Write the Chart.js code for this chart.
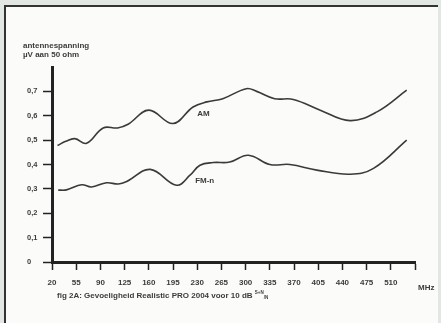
<!DOCTYPE html>
<html lang="nl">
<head>
    <meta charset="UTF-8">
    <title>Gevoeligheid Realistic PRO 2004</title>
    <script src="https://cdn.jsdelivr.net/npm/chart.js"></script>
    <style>
        html, body { margin: 0; padding: 0; background: #e3e7e3; }
        #wrap { width: 441px; height: 323px; position: relative; }
    </style>
</head>
<body>
    <div id="wrap"><canvas id="chart" width="441" height="323"></canvas></div>
    <script>
        const xTicks = [20, 55, 90, 125, 160, 195, 230, 265, 300, 335, 370, 405, 440, 475, 510, 545];
        const yTicks = [0, 0.1, 0.2, 0.3, 0.4, 0.5, 0.6, 0.7];

        const amFreq = [28, 40, 53, 70, 94, 115, 130, 160, 195, 224, 244, 267, 301, 316, 342, 369, 408, 451, 490, 533];
        const amValues = [0.478, 0.495, 0.506, 0.487, 0.55, 0.55, 0.565, 0.623, 0.568, 0.636, 0.657, 0.67, 0.711, 0.70, 0.67, 0.667, 0.623, 0.58, 0.616, 0.705];

        const fmFreq = [29, 41, 63, 77, 99, 116, 128, 162, 200, 220, 234, 253, 277, 304, 335, 364, 403, 451, 485, 533];
        const fmValues = [0.295, 0.296, 0.317, 0.308, 0.325, 0.32, 0.33, 0.38, 0.315, 0.357, 0.397, 0.408, 0.41, 0.438, 0.40, 0.40, 0.377, 0.36, 0.384, 0.50];

        const ink = '#3c3c3c';
        const font = '"Liberation Sans", Arial, sans-serif';

        const toPoints = (xs, ys) => xs.map((x, i) => ({ x: x, y: ys[i] }));

        // paper, frame and loose texts
        const paper = {
            id: 'paper',
            beforeDraw(chart) {
                const c = chart.ctx;
                c.save();
                c.fillStyle = '#e3e7e3';
                c.fillRect(0, 0, 441, 323);
                c.fillStyle = '#fbfbfa';
                c.fillRect(5, 5, 433, 318);
                c.fillStyle = '#333';
                c.fillRect(4, 5, 2, 318);
                c.fillRect(4, 5, 434, 2);
                c.restore();
            },
            afterDraw(chart) {
                const c = chart.ctx;
                const xs = chart.scales.x, ys = chart.scales.y;
                c.save();
                c.fillStyle = ink;
                c.textBaseline = 'middle';
                c.font = 'bold 8px ' + font;
                c.fillText('antennespanning', 23, 46);
                c.fillText('\u00b5V aan 50 ohm', 23, 55);
                c.fillText('MHz', 418, 288);
                c.fillText('AM', xs.getPixelForValue(230), ys.getPixelForValue(0.61));
                c.fillText('FM-n', xs.getPixelForValue(227), ys.getPixelForValue(0.335));
                const cap = 'fig 2A: Gevoeligheid Realistic PRO 2004 voor 10 dB ';
                c.fillText(cap, 57, 296);
                const w = c.measureText(cap).width;
                c.font = 'bold 4.5px ' + font;
                c.fillText('S+N', 57 + w, 293);
                c.fillText('/N', 57 + w + 9, 297.5);
                c.restore();
            }
        };

        new Chart(document.getElementById('chart'), {
            type: 'line',
            data: {
                datasets: [{
                    label: 'AM',
                    data: toPoints(amFreq, amValues),
                    borderColor: '#3a3a3a',
                    borderWidth: 1.6,
                    pointRadius: 0,
                    tension: 0.4,
                    fill: false
                }, {
                    label: 'FM-n',
                    data: toPoints(fmFreq, fmValues),
                    borderColor: '#3a3a3a',
                    borderWidth: 1.6,
                    pointRadius: 0,
                    tension: 0.4,
                    fill: false
                }]
            },
            options: {
                responsive: false,
                animation: false,
                layout: { padding: { left: 27, right: 26, top: 67, bottom: 0 } },
                plugins: { legend: { display: false }, tooltip: { enabled: false } },
                scales: {
                    x: {
                        type: 'linear',
                        min: 20,
                        max: 545,
                        afterBuildTicks: s => { s.ticks = xTicks.map(v => ({ value: v })); },
                        afterFit: s => { s.height = 61; },
                        border: { display: true, color: '#222', width: 3 },
                        grid: { drawOnChartArea: false, tickLength: 8, tickColor: '#222', tickWidth: 1.5 },
                        ticks: {
                            padding: 8,
                            maxRotation: 0,
                            color: ink,
                            font: { family: font, size: 8, weight: 'bold' },
                            callback: v => (v === 545 ? '' : String(v))
                        }
                    },
                    y: {
                        min: 0,
                        max: 0.8,
                        afterBuildTicks: s => { s.ticks = yTicks.map(v => ({ value: v })); },
                        afterFit: s => { s.width = 25; },
                        border: { display: true, color: '#222', width: 3 },
                        grid: { drawOnChartArea: false, tickLength: 9, tickColor: '#222', tickWidth: 1.5 },
                        ticks: {
                            crossAlign: 'far',
                            color: ink,
                            font: { family: font, size: 7.5, weight: 'bold' },
                            callback: v => (v === 0 ? '0' : v.toFixed(1).replace('.', ','))
                        }
                    }
                }
            },
            plugins: [paper]
        });
    </script>
</body>
</html>
